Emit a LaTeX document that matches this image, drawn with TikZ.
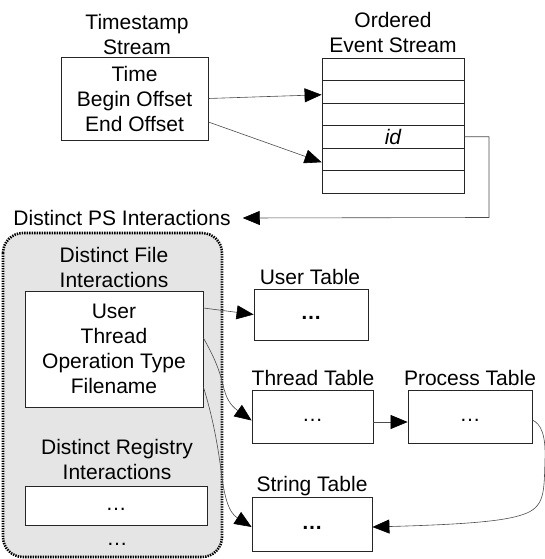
\documentclass[tikz,border=0pt]{standalone}
\usepackage{fontspec}
\setmainfont{Liberation Sans}
\usetikzlibrary{arrows.meta}
\begin{document}
\begin{tikzpicture}[x=1pt,y=-1pt,
  txt/.style={inner sep=0pt, align=center, text=black, font=\fontsize{21}{25}\selectfont},
  boxn/.style={draw=black!85, line width=0.8pt, fill=white, inner sep=0pt, align=center, text=black, font=\fontsize{21}{25}\selectfont},
  conn/.style={draw=black!70, line width=0.6pt, -{Triangle[length=17pt,width=14pt,color=black]}},
  group/.style={draw=black, line width=2.6pt, dash pattern=on 1.4pt off 1.1pt, fill=black!10, rounded corners=20pt},
]
\useasboundingbox (0,0) rectangle (545,559);

% Timestamp stream
\node[txt] (tslab) at (137,34) {Timestamp\\Stream};
\node[boxn, minimum width=147pt, minimum height=83pt] (ts) at (134.5,98.5) {Time\\Begin Offset\\End Offset};

% Ordered event stream
\node[txt] (oslab) at (393,32.5) {Ordered\\Event Stream};
\node[boxn, minimum width=142pt, minimum height=22.5pt] (r1) at (393,69.25) {};
\node[boxn, minimum width=142pt, minimum height=22.5pt] (r2) at (393,91.75) {};
\node[boxn, minimum width=142pt, minimum height=22.5pt] (r3) at (393,114.25) {};
\node[boxn, minimum width=142pt, minimum height=22.5pt, font=\fontsize{21}{25}\selectfont\itshape] (r4) at (393,136.75) {id};
\node[boxn, minimum width=142pt, minimum height=22.5pt] (r5) at (393,159.25) {};
\node[boxn, minimum width=142pt, minimum height=22.5pt] (r6) at (393,181.75) {};

\draw[conn] (ts.east) -- ([yshift=-3pt]r2.west);
\draw[conn] ([yshift=-23.5pt]ts.east) -- ([yshift=-3pt]r5.west);

% Distinct PS interactions
\node[txt] (ps) at (122,218) {Distinct PS Interactions};
\coordinate (idc) at (489,217.5);
\draw[conn] (r4.east) -| (idc) -- ([xshift=12pt]ps.east);

% Group
\draw[group] (3,233) rectangle (222,557);
\node[txt] (filelab) at (114,267) {Distinct File\\Interactions};
\node[boxn, minimum width=178pt, minimum height=116pt] (fb) at (114,349) {User\\Thread\\Operation Type\\Filename};
\node[txt] (reglab) at (117,459) {Distinct Registry\\Interactions};
\node[boxn, minimum width=182pt, minimum height=39pt] (rb) at (116,505.5) {\strut…};
\node[txt] (moredots) at (117,544) {…};

% Tables
\node[txt] (utlab) at (310,277) {User Table};
\node[boxn, minimum width=114pt, minimum height=51pt] (ut) at (311,314.5) {\strut\textbf{…}};
\node[txt] (ttlab) at (313,378) {Thread Table};
\node[boxn, minimum width=121pt, minimum height=53pt] (tt) at (312.5,416.5) {\strut…};
\node[txt] (ptlab) at (470,378) {Process Table};
\node[boxn, minimum width=124pt, minimum height=53pt] (pt) at (470,416.5) {\strut…};
\node[txt] (stlab) at (312,486) {String Table};
\node[boxn, minimum width=120pt, minimum height=54pt] (st) at (312,524) {\strut\textbf{…}};

% Connectors from file box
\draw[conn] ([yshift=41pt]fb.east) -- (ut.west);
\draw[conn] ([yshift=11pt]fb.east) .. controls (213,355) and (219,368) .. (223,385)
  .. controls (226,398) and (230,405) .. ([yshift=-4pt]tt.west);
\draw[conn] ([yshift=-38pt]fb.east) .. controls (212,415) and (217,440) .. (221,470)
  .. controls (224,495) and (228,512) .. ([yshift=-3pt]st.west);
\draw[conn] ([yshift=-5.5pt]tt.east) -- ([yshift=-5.5pt]pt.west);
\draw[conn] ([yshift=-3.5pt]pt.east) .. controls (541,424) and (546,435) .. (545,460)
  .. controls (544,490) and (545,505) .. (527,513)
  .. controls (510,520) and (480,524) .. ([yshift=-3pt]st.east);
\end{tikzpicture}
\end{document}
